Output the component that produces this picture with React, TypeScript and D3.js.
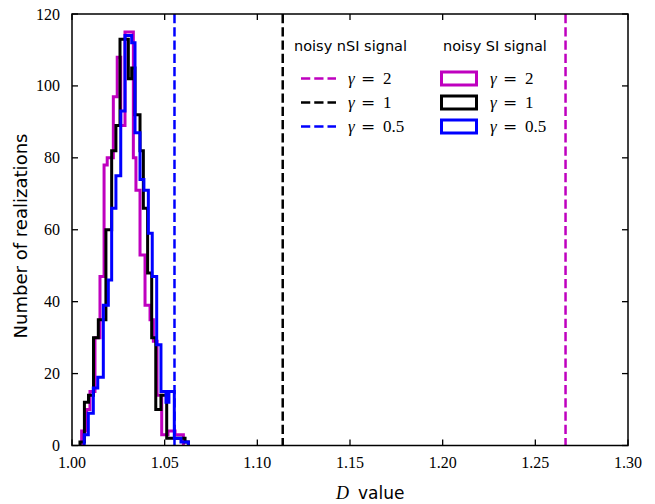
import React from "react";
import * as d3 from "d3";

// ---- data ----
const xTicks = [1.0, 1.05, 1.1, 1.15, 1.2, 1.25, 1.3];
const yTicks = [0, 20, 40, 60, 80, 100, 120];

// noisy SI signal histograms: bin edges (D value) and counts per bin
const siG2Edges = [1.0052, 1.0079, 1.0097, 1.0124, 1.0151, 1.0173, 1.019, 1.0223, 1.0244, 1.0263, 1.0286, 1.0331, 1.0345, 1.0367, 1.0394, 1.0421, 1.0439, 1.0459, 1.0484, 1.0518, 1.0556, 1.0601];
const siG2Counts = [4, 10, 15, 30, 47, 78, 80, 97, 108, 89, 115, 80, 71, 53, 39, 35, 29, 14, 3, 4, 3];

const siG1Edges = [1.0043, 1.0067, 1.0089, 1.0116, 1.0142, 1.0183, 1.0214, 1.0237, 1.0259, 1.0304, 1.0322, 1.034, 1.0367, 1.0385, 1.0408, 1.043, 1.0452, 1.048, 1.0511, 1.0556, 1.061, 1.0628];
const siG1Counts = [1, 12, 14, 30, 35, 60, 82, 89, 113, 102, 105, 92, 82, 66, 48, 30, 10, 14, 2, 2, 1];

const siG05Edges = [1.0066, 1.0088, 1.0115, 1.0139, 1.0169, 1.0196, 1.0214, 1.0237, 1.0263, 1.0286, 1.0322, 1.034, 1.0367, 1.0388, 1.0412, 1.0433, 1.0457, 1.048, 1.0507, 1.0523, 1.0552, 1.0588, 1.0628];
const siG05Counts = [3, 9, 16, 19, 39, 46, 66, 75, 93, 114, 112, 87, 74, 71, 59, 47, 28, 15, 12, 15, 2, 1];

// noisy nSI signal values
const nsiValues = [1.2663, 1.1137, 1.0553];
const gammaLabels = ["2", "1", "0.5"];
const seriesColors = ["#bf00bf", "#000000", "#0000ff"];

const W = 655;
const H = 504;
const x = d3.scaleLinear().domain([1.0, 1.3]).range([72, 628]);
const y = d3.scaleLinear().domain([0, 120]).range([445.5, 14]);

function stepPath(edges: number[], counts: number[]): string {
  const pts: [number, number][] = [];
  pts.push([edges[0], 0]);
  counts.forEach((c, i) => {
    pts.push([edges[i], c]);
    pts.push([edges[i + 1], c]);
  });
  pts.push([edges[counts.length], 0]);
  const line = d3
    .line<[number, number]>()
    .x((d) => x(d[0]))
    .y((d) => y(d[1]));
  return line(pts) || "";
}

const histos = [
  { edges: siG2Edges, counts: siG2Counts },
  { edges: siG1Edges, counts: siG1Counts },
  { edges: siG05Edges, counts: siG05Counts },
];

const serif = "'Liberation Serif', 'DejaVu Serif', serif";
const sans = "'DejaVu Sans', sans-serif";

function GammaLabel({ x0, yb, val }: { x0: number; yb: number; val: string }) {
  return (
    <text y={yb} fontFamily={serif} fontSize={17} fill="#000">
      <tspan x={x0} fontStyle="italic">γ</tspan>
      <tspan x={x0 + 13} fontFamily="'DejaVu Serif', serif">=</tspan>
      <tspan x={x0 + 35}>{val}</tspan>
    </text>
  );
}

export default function App() {
  const [x0, x1] = x.range();
  const [yb, yt] = y.range();
  const tick = 6;
  const rowY = [78.5, 102.5, 126.5];
  return (
    <svg
      width={W}
      height={H}
      style={{ position: "fixed", left: 0, top: 0, background: "#fff" }}
    >
      <rect x={0} y={0} width={W} height={H} fill="#fff" />
      {/* histograms */}
      {histos.map((h, i) => (
        <path
          key={"h" + i}
          d={stepPath(h.edges, h.counts)}
          fill="none"
          stroke={seriesColors[i]}
          strokeWidth={3}
          strokeLinejoin="miter"
        />
      ))}
      {/* dashed nSI lines */}
      {nsiValues.map((v, i) => (
        <line
          key={"v" + i}
          x1={x(v)}
          x2={x(v)}
          y1={yt}
          y2={yb}
          stroke={seriesColors[i]}
          strokeWidth={2.5}
          strokeDasharray="9.25,4"
        />
      ))}
      {/* frame */}
      <rect
        x={x0}
        y={yt}
        width={x1 - x0}
        height={yb - yt}
        fill="none"
        stroke="#000"
        strokeWidth={1.5}
      />
      {/* x ticks */}
      {xTicks.map((t) => (
        <g key={"xt" + t}>
          <line x1={x(t)} x2={x(t)} y1={yb} y2={yb - tick} stroke="#000" strokeWidth={1.3} />
          <line x1={x(t)} x2={x(t)} y1={yt} y2={yt + tick} stroke="#000" strokeWidth={1.3} />
          <text
            x={x(t)}
            y={468}
            textAnchor="middle"
            fontFamily={serif}
            fontSize={16}
            fill="#000"
          >
            {t.toFixed(2)}
          </text>
        </g>
      ))}
      {/* y ticks */}
      {yTicks.map((t) => (
        <g key={"yt" + t}>
          <line x1={x0} x2={x0 + tick} y1={y(t)} y2={y(t)} stroke="#000" strokeWidth={1.3} />
          <line x1={x1} x2={x1 - tick} y1={y(t)} y2={y(t)} stroke="#000" strokeWidth={1.3} />
          <text
            x={60}
            y={y(t) + 5.5}
            textAnchor="end"
            fontFamily={serif}
            fontSize={16}
            fill="#000"
          >
            {t}
          </text>
        </g>
      ))}
      {/* axis labels */}
      <text
        transform={`translate(27,236) rotate(-90)`}
        textAnchor="middle"
        fontFamily={sans}
        fontSize={17}
        textLength={205}
        lengthAdjust="spacingAndGlyphs"
        fill="#000"
      >
        Number of realizations
      </text>
      <text y={499} fontSize={18} fill="#000">
        <tspan x={336} fontFamily={serif} fontStyle="italic">D</tspan>
        <tspan x={358} fontFamily={sans} fontSize={17}>value</tspan>
      </text>
      {/* legend: nSI */}
      <text x={294} y={51} fontFamily={sans} fontSize={14.5} fill="#000">
        noisy nSI signal
      </text>
      {gammaLabels.map((g, i) => (
        <g key={"ln" + i}>
          <line
            x1={301}
            x2={336}
            y1={rowY[i]}
            y2={rowY[i]}
            stroke={seriesColors[i]}
            strokeWidth={2.5}
            strokeDasharray="9.25,4"
          />
          <GammaLabel x0={348} yb={rowY[i] + 5.5} val={g} />
        </g>
      ))}
      {/* legend: SI */}
      <text x={443} y={51} fontFamily={sans} fontSize={14.5} fill="#000">
        noisy SI signal
      </text>
      {gammaLabels.map((g, i) => (
        <g key={"ls" + i}>
          <rect
            x={441.5}
            y={rowY[i] - 6.5}
            width={35}
            height={13}
            fill="none"
            stroke={seriesColors[i]}
            strokeWidth={3}
          />
          <GammaLabel x0={490} yb={rowY[i] + 5.5} val={g} />
        </g>
      ))}
    </svg>
  );
}
